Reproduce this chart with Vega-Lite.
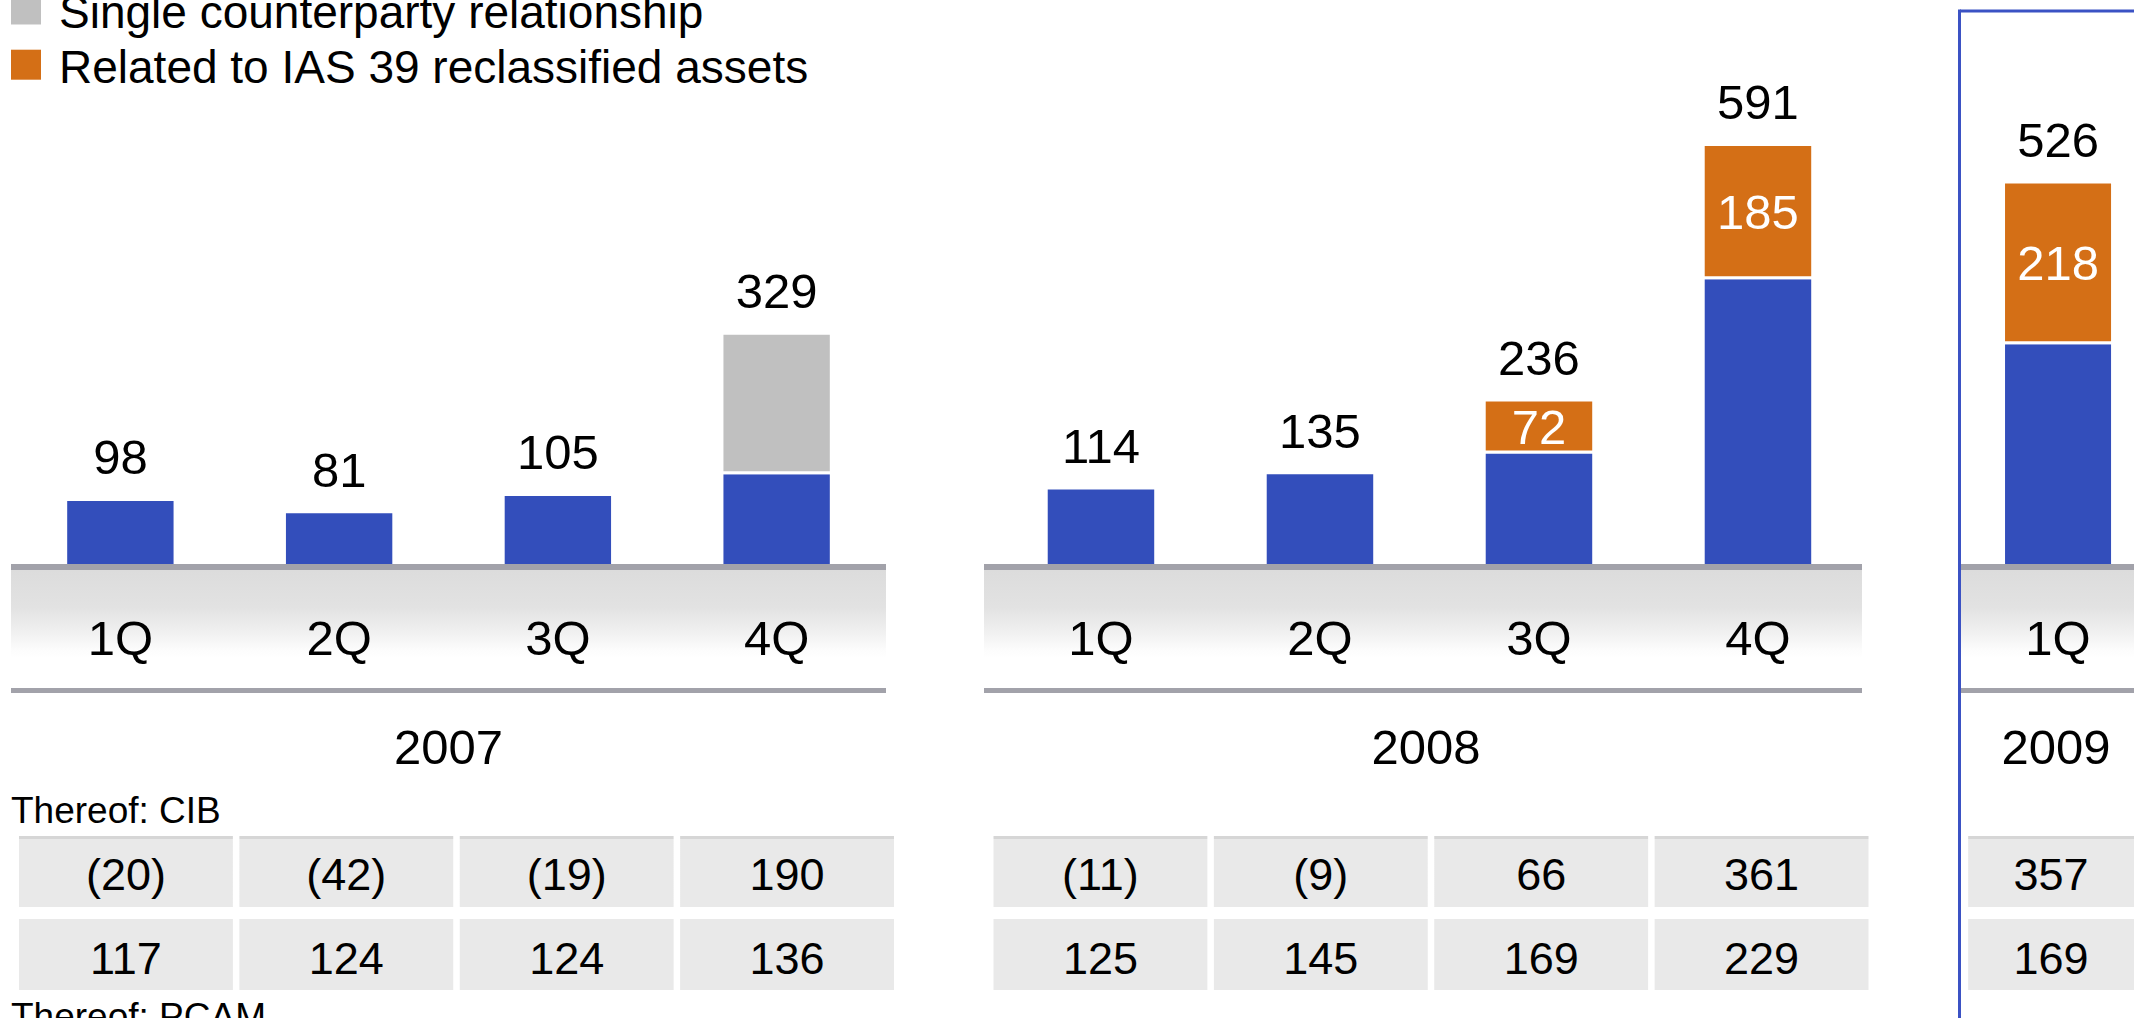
{
  "$schema": "https://vega.github.io/schema/vega-lite/v6.json",
  "background": "white",
  "padding": {"left": 11, "top": 0, "right": 0, "bottom": 0},
  "autosize": {"type": "pad"},
  "spacing": 0,
  "config": {
    "view": {"stroke": null},
    "axis": {"disable": true},
    "legend": {"disable": true},
    "font": "Liberation Sans",
    "text": {"font": "Liberation Sans", "color": "#000000"}
  },
  "datasets": {
    "bars": [
      {"year": "2007", "q": "1Q", "series": "Other provision for credit losses", "value": 98},
      {"year": "2007", "q": "2Q", "series": "Other provision for credit losses", "value": 81},
      {"year": "2007", "q": "3Q", "series": "Other provision for credit losses", "value": 105},
      {"year": "2007", "q": "4Q", "series": "Other provision for credit losses", "value": 135},
      {"year": "2007", "q": "4Q", "series": "Single counterparty relationship", "value": 194},
      {"year": "2008", "q": "1Q", "series": "Other provision for credit losses", "value": 114},
      {"year": "2008", "q": "2Q", "series": "Other provision for credit losses", "value": 135},
      {"year": "2008", "q": "3Q", "series": "Other provision for credit losses", "value": 164},
      {"year": "2008", "q": "3Q", "series": "Related to IAS 39 reclassified assets", "value": 72},
      {"year": "2008", "q": "4Q", "series": "Other provision for credit losses", "value": 406},
      {"year": "2008", "q": "4Q", "series": "Related to IAS 39 reclassified assets", "value": 185},
      {"year": "2009", "q": "1Q", "series": "Other provision for credit losses", "value": 308},
      {"year": "2009", "q": "1Q", "series": "Related to IAS 39 reclassified assets", "value": 218}
    ],
    "totals": [
      {"year": "2007", "q": "1Q", "total": 98},
      {"year": "2007", "q": "2Q", "total": 81},
      {"year": "2007", "q": "3Q", "total": 105},
      {"year": "2007", "q": "4Q", "total": 329},
      {"year": "2008", "q": "1Q", "total": 114},
      {"year": "2008", "q": "2Q", "total": 135},
      {"year": "2008", "q": "3Q", "total": 236},
      {"year": "2008", "q": "4Q", "total": 591},
      {"year": "2009", "q": "1Q", "total": 526}
    ],
    "table": [
      {"year": "2007", "q": "1Q", "segment": "CIB", "value": -20},
      {"year": "2007", "q": "2Q", "segment": "CIB", "value": -42},
      {"year": "2007", "q": "3Q", "segment": "CIB", "value": -19},
      {"year": "2007", "q": "4Q", "segment": "CIB", "value": 190},
      {"year": "2007", "q": "1Q", "segment": "PCAM", "value": 117},
      {"year": "2007", "q": "2Q", "segment": "PCAM", "value": 124},
      {"year": "2007", "q": "3Q", "segment": "PCAM", "value": 124},
      {"year": "2007", "q": "4Q", "segment": "PCAM", "value": 136},
      {"year": "2008", "q": "1Q", "segment": "CIB", "value": -11},
      {"year": "2008", "q": "2Q", "segment": "CIB", "value": -9},
      {"year": "2008", "q": "3Q", "segment": "CIB", "value": 66},
      {"year": "2008", "q": "4Q", "segment": "CIB", "value": 361},
      {"year": "2008", "q": "1Q", "segment": "PCAM", "value": 125},
      {"year": "2008", "q": "2Q", "segment": "PCAM", "value": 145},
      {"year": "2008", "q": "3Q", "segment": "PCAM", "value": 169},
      {"year": "2008", "q": "4Q", "segment": "PCAM", "value": 229},
      {"year": "2009", "q": "1Q", "segment": "CIB", "value": 357},
      {"year": "2009", "q": "1Q", "segment": "PCAM", "value": 169}
    ],
    "years": [{"year": "2007"}, {"year": "2008"}, {"year": "2009"}],
    "legend": [
      {"series": "Single counterparty relationship"},
      {"series": "Related to IAS 39 reclassified assets"}
    ],
    "notes": [{"note": "Thereof: CIB"}, {"note": "Thereof: PCAM"}]
  },
  "vconcat": [
    {
      "bounds": "flush",
      "spacing": 98,
      "hconcat": [
        {
          "width": 875,
          "height": 570,
          "resolve": {"scale": {"x": "independent", "y": "independent"}},
          "layer": [
            {
              "layer": [
                {
                  "data": {"name": "bars"},
                  "transform": [
                    {"filter": "datum.year == '2007'"},
                    {"stack": "value", "groupby": ["q"], "sort": [{"field": "series", "order": "ascending"}], "as": ["v0", "v1"]}
                  ],
                  "mark": {"type": "bar", "stroke": "#ffffff", "strokeWidth": 3, "clip": true},
                  "encoding": {
                    "x": {"field": "q", "type": "nominal", "scale": {"type": "band", "domain": ["1Q", "2Q", "3Q", "4Q"], "paddingInner": 0.5, "paddingOuter": 0.25}},
                    "y": {"field": "v1", "type": "quantitative", "scale": {"domain": [0, 791.7], "nice": false}},
                    "y2": {"field": "v0"},
                    "color": {"field": "series", "type": "nominal", "scale": {"domain": ["Other provision for credit losses", "Related to IAS 39 reclassified assets", "Single counterparty relationship"], "range": ["#334ebb", "#d46f16", "#c0c0c0"]}}
                  }
                },
                {
                  "data": {"name": "totals"},
                  "transform": [{"filter": "datum.year == '2007'"}],
                  "mark": {"type": "text", "fontSize": 49, "baseline": "middle", "dy": -40},
                  "encoding": {
                    "x": {"field": "q", "type": "nominal", "scale": {"type": "band", "domain": ["1Q", "2Q", "3Q", "4Q"], "paddingInner": 0.5, "paddingOuter": 0.25}},
                    "y": {"field": "total", "type": "quantitative", "scale": {"domain": [0, 791.7], "nice": false}},
                    "text": {"field": "total", "type": "quantitative"}
                  }
                },
                {
                  "data": {"name": "years"},
                  "transform": [{"filter": "datum.year == '2007'"}],
                  "mark": {"type": "rect", "color": "#a2a2aa"},
                  "encoding": {
                    "y": {"datum": 0, "type": "quantitative", "scale": {"domain": [0, 791.7], "nice": false}},
                    "y2": {"datum": 8.3}
                  }
                }
              ]
            },
            {
              "data": {"name": "legend"},
              "layer": [
                {
                  "mark": {"type": "point", "shape": "M0,-1H2V1H0Z", "size": 900, "filled": true, "opacity": 1, "clip": true},
                  "encoding": {
                    "x": {"datum": 0, "type": "quantitative", "scale": {"domain": [0, 1], "nice": false, "zero": false}},
                    "y": {"field": "series", "type": "nominal", "scale": {"type": "point", "domain": ["Single counterparty relationship", "Related to IAS 39 reclassified assets"], "range": [9.5, 64.7], "padding": 0}},
                    "color": {"field": "series", "type": "nominal", "scale": {"domain": ["Other provision for credit losses", "Related to IAS 39 reclassified assets", "Single counterparty relationship"], "range": ["#334ebb", "#d46f16", "#c0c0c0"]}}
                  }
                },
                {
                  "mark": {"type": "text", "align": "left", "baseline": "middle", "dx": 48, "dy": 4, "fontSize": 46, "clip": true},
                  "encoding": {
                    "x": {"datum": 0, "type": "quantitative", "scale": {"domain": [0, 1], "nice": false, "zero": false}},
                    "y": {"field": "series", "type": "nominal", "scale": {"type": "point", "domain": ["Single counterparty relationship", "Related to IAS 39 reclassified assets"], "range": [9.5, 64.7], "padding": 0}},
                    "text": {"field": "series", "type": "nominal"}
                  }
                }
              ]
            }
          ]
        },
        {
          "width": 878,
          "height": 570,
          "layer": [
            {
              "data": {"name": "bars"},
              "transform": [
                {"filter": "datum.year == '2008'"},
                {"stack": "value", "groupby": ["q"], "sort": [{"field": "series", "order": "ascending"}], "as": ["v0", "v1"]}
              ],
              "mark": {"type": "bar", "stroke": "#ffffff", "strokeWidth": 3, "clip": true},
              "encoding": {
                "x": {"field": "q", "type": "nominal", "scale": {"type": "band", "domain": ["1Q", "2Q", "3Q", "4Q"], "paddingInner": 0.5, "paddingOuter": 0.2546, "align": 0.558}},
                "y": {"field": "v1", "type": "quantitative", "scale": {"domain": [0, 791.7], "nice": false}},
                "y2": {"field": "v0"},
                "color": {"field": "series", "type": "nominal", "scale": {"domain": ["Other provision for credit losses", "Related to IAS 39 reclassified assets", "Single counterparty relationship"], "range": ["#334ebb", "#d46f16", "#c0c0c0"]}}
              }
            },
            {
              "data": {"name": "bars"},
              "transform": [
                {"filter": "datum.year == '2008'"},
                {"stack": "value", "groupby": ["q"], "sort": [{"field": "series", "order": "ascending"}], "as": ["v0", "v1"]},
                {"filter": "datum.series == 'Related to IAS 39 reclassified assets'"},
                {"fold": ["v0", "v1"], "as": ["edge", "pos"]}
              ],
              "mark": {"type": "text", "color": "#ffffff", "fontSize": 49, "baseline": "middle", "dy": 3},
              "encoding": {
                "x": {"field": "q", "type": "nominal", "scale": {"type": "band", "domain": ["1Q", "2Q", "3Q", "4Q"], "paddingInner": 0.5, "paddingOuter": 0.2546, "align": 0.558}},
                "y": {"aggregate": "mean", "field": "pos", "type": "quantitative", "scale": {"domain": [0, 791.7], "nice": false}},
                "text": {"field": "value", "type": "quantitative"}
              }
            },
            {
              "data": {"name": "totals"},
              "transform": [{"filter": "datum.year == '2008'"}],
              "mark": {"type": "text", "fontSize": 49, "baseline": "middle", "dy": -40},
              "encoding": {
                "x": {"field": "q", "type": "nominal", "scale": {"type": "band", "domain": ["1Q", "2Q", "3Q", "4Q"], "paddingInner": 0.5, "paddingOuter": 0.2546, "align": 0.558}},
                "y": {"field": "total", "type": "quantitative", "scale": {"domain": [0, 791.7], "nice": false}},
                "text": {"field": "total", "type": "quantitative"}
              }
            },
            {
              "data": {"name": "years"},
              "transform": [{"filter": "datum.year == '2008'"}],
              "mark": {"type": "rect", "color": "#a2a2aa"},
              "encoding": {
                "y": {"datum": 0, "type": "quantitative", "scale": {"domain": [0, 791.7], "nice": false}},
                "y2": {"datum": 8.3}
              }
            }
          ]
        },
        {
          "width": 174,
          "height": 570,
          "resolve": {"scale": {"x": "independent"}},
          "layer": [
            {
              "layer": [
                {
                  "data": {"name": "bars"},
                  "transform": [
                    {"filter": "datum.year == '2009'"},
                    {"stack": "value", "groupby": ["q"], "sort": [{"field": "series", "order": "ascending"}], "as": ["v0", "v1"]}
                  ],
                  "mark": {"type": "bar", "stroke": "#ffffff", "strokeWidth": 3, "clip": true},
                  "encoding": {
                    "x": {"field": "q", "type": "nominal", "scale": {"type": "band", "domain": ["1Q"], "paddingInner": 0.5, "paddingOuter": 0.149, "align": 0.67}},
                    "y": {"field": "v1", "type": "quantitative", "scale": {"domain": [0, 772.8], "nice": false}},
                    "y2": {"field": "v0"},
                    "color": {"field": "series", "type": "nominal", "scale": {"domain": ["Other provision for credit losses", "Related to IAS 39 reclassified assets", "Single counterparty relationship"], "range": ["#334ebb", "#d46f16", "#c0c0c0"]}}
                  }
                },
                {
                  "data": {"name": "bars"},
                  "transform": [
                    {"filter": "datum.year == '2009'"},
                    {"stack": "value", "groupby": ["q"], "sort": [{"field": "series", "order": "ascending"}], "as": ["v0", "v1"]},
                    {"filter": "datum.series == 'Related to IAS 39 reclassified assets'"},
                    {"fold": ["v0", "v1"], "as": ["edge", "pos"]}
                  ],
                  "mark": {"type": "text", "color": "#ffffff", "fontSize": 49, "baseline": "middle", "dy": 3},
                  "encoding": {
                    "x": {"field": "q", "type": "nominal", "scale": {"type": "band", "domain": ["1Q"], "paddingInner": 0.5, "paddingOuter": 0.149, "align": 0.67}},
                    "y": {"aggregate": "mean", "field": "pos", "type": "quantitative", "scale": {"domain": [0, 772.8], "nice": false}},
                    "text": {"field": "value", "type": "quantitative"}
                  }
                },
                {
                  "data": {"name": "totals"},
                  "transform": [{"filter": "datum.year == '2009'"}],
                  "mark": {"type": "text", "fontSize": 49, "baseline": "middle", "dy": -40},
                  "encoding": {
                    "x": {"field": "q", "type": "nominal", "scale": {"type": "band", "domain": ["1Q"], "paddingInner": 0.5, "paddingOuter": 0.149, "align": 0.67}},
                    "y": {"field": "total", "type": "quantitative", "scale": {"domain": [0, 772.8], "nice": false}},
                    "text": {"field": "total", "type": "quantitative"}
                  }
                },
                {
                  "data": {"name": "years"},
                  "transform": [{"filter": "datum.year == '2009'"}],
                  "mark": {"type": "rect", "color": "#a2a2aa"},
                  "encoding": {
                    "y": {"datum": 0, "type": "quantitative", "scale": {"domain": [0, 772.8], "nice": false}},
                    "y2": {"datum": 8.1}
                  }
                }
              ]
            },
            {
              "data": {"name": "years"},
              "transform": [{"filter": "datum.year == '2009'"}],
              "layer": [
                {
                  "mark": {"type": "rect", "color": "#3b52c4"},
                  "encoding": {
                    "x": {"datum": -0.0115, "type": "quantitative", "scale": {"domain": [0, 1], "nice": false, "zero": false}},
                    "x2": {"datum": 0.00575},
                    "y": {"datum": 759.9, "type": "quantitative", "scale": {"domain": [0, 772.8], "nice": false}},
                    "y2": {"datum": 0}
                  }
                },
                {
                  "mark": {"type": "rect", "color": "#3b52c4"},
                  "encoding": {
                    "y": {"datum": 759.9, "type": "quantitative", "scale": {"domain": [0, 772.8], "nice": false}},
                    "y2": {"datum": 755.8}
                  }
                }
              ]
            }
          ]
        }
      ]
    },
    {
      "bounds": "flush",
      "spacing": 98,
      "hconcat": [
        {
          "width": 875,
          "height": 123,
          "layer": [
            {
              "data": {"name": "years"},
              "transform": [{"filter": "datum.year == '2007'"}],
              "mark": {"type": "rect", "fill": {"gradient": "linear", "x1": 0, "y1": 0, "x2": 0, "y2": 1, "stops": [{"offset": 0, "color": "#dcdcdc"}, {"offset": 0.3, "color": "#e2e2e2"}, {"offset": 0.49, "color": "#efefef"}, {"offset": 0.65, "color": "#fcfcfc"}, {"offset": 0.71, "color": "#ffffff"}, {"offset": 0.958, "color": "#ffffff"}, {"offset": 0.959, "color": "#a2a2aa"}, {"offset": 1, "color": "#a2a2aa"}]}},
              "encoding": {}
            },
            {
              "data": {"name": "totals"},
              "transform": [{"filter": "datum.year == '2007'"}],
              "mark": {"type": "text", "fontSize": 49, "baseline": "middle", "dy": 8},
              "encoding": {
                "x": {"field": "q", "type": "nominal", "scale": {"type": "band", "domain": ["1Q", "2Q", "3Q", "4Q"], "paddingInner": 0.5, "paddingOuter": 0.25}},
                "text": {"field": "q", "type": "nominal"}
              }
            }
          ]
        },
        {
          "width": 878,
          "height": 123,
          "layer": [
            {
              "data": {"name": "years"},
              "transform": [{"filter": "datum.year == '2008'"}],
              "mark": {"type": "rect", "fill": {"gradient": "linear", "x1": 0, "y1": 0, "x2": 0, "y2": 1, "stops": [{"offset": 0, "color": "#dcdcdc"}, {"offset": 0.3, "color": "#e2e2e2"}, {"offset": 0.49, "color": "#efefef"}, {"offset": 0.65, "color": "#fcfcfc"}, {"offset": 0.71, "color": "#ffffff"}, {"offset": 0.958, "color": "#ffffff"}, {"offset": 0.959, "color": "#a2a2aa"}, {"offset": 1, "color": "#a2a2aa"}]}},
              "encoding": {}
            },
            {
              "data": {"name": "totals"},
              "transform": [{"filter": "datum.year == '2008'"}],
              "mark": {"type": "text", "fontSize": 49, "baseline": "middle", "dy": 8},
              "encoding": {
                "x": {"field": "q", "type": "nominal", "scale": {"type": "band", "domain": ["1Q", "2Q", "3Q", "4Q"], "paddingInner": 0.5, "paddingOuter": 0.2546, "align": 0.558}},
                "text": {"field": "q", "type": "nominal"}
              }
            }
          ]
        },
        {
          "width": 174,
          "height": 123,
          "resolve": {"scale": {"x": "independent"}},
          "layer": [
            {
              "data": {"name": "years"},
              "transform": [{"filter": "datum.year == '2009'"}],
              "mark": {"type": "rect", "fill": {"gradient": "linear", "x1": 0, "y1": 0, "x2": 0, "y2": 1, "stops": [{"offset": 0, "color": "#dcdcdc"}, {"offset": 0.3, "color": "#e2e2e2"}, {"offset": 0.49, "color": "#efefef"}, {"offset": 0.65, "color": "#fcfcfc"}, {"offset": 0.71, "color": "#ffffff"}, {"offset": 0.958, "color": "#ffffff"}, {"offset": 0.959, "color": "#a2a2aa"}, {"offset": 1, "color": "#a2a2aa"}]}},
              "encoding": {}
            },
            {
              "data": {"name": "totals"},
              "transform": [{"filter": "datum.year == '2009'"}],
              "mark": {"type": "text", "fontSize": 49, "baseline": "middle", "dy": 8},
              "encoding": {
                "x": {"field": "q", "type": "nominal", "scale": {"type": "band", "domain": ["1Q"], "paddingInner": 0.5, "paddingOuter": 0.149, "align": 0.67}},
                "text": {"field": "q", "type": "nominal"}
              }
            },
            {
              "data": {"name": "years"},
              "transform": [{"filter": "datum.year == '2009'"}],
              "mark": {"type": "rect", "color": "#3b52c4"},
              "encoding": {
                "x": {"datum": -0.0115, "type": "quantitative", "scale": {"domain": [0, 1], "nice": false, "zero": false}},
                "x2": {"datum": 0.00575}
              }
            }
          ]
        }
      ]
    },
    {
      "bounds": "flush",
      "spacing": 98,
      "hconcat": [
        {
          "width": 875,
          "height": 97,
          "data": {"name": "years"},
          "transform": [{"filter": "datum.year == '2007'"}],
          "mark": {"type": "text", "fontSize": 49, "baseline": "middle", "dy": 7},
          "encoding": {"text": {"field": "year", "type": "nominal"}}
        },
        {
          "width": 878,
          "height": 97,
          "data": {"name": "years"},
          "transform": [{"filter": "datum.year == '2008'"}],
          "mark": {"type": "text", "fontSize": 49, "baseline": "middle", "dy": 7, "dx": 3},
          "encoding": {"text": {"field": "year", "type": "nominal"}}
        },
        {
          "width": 174,
          "height": 97,
          "data": {"name": "years"},
          "transform": [{"filter": "datum.year == '2009'"}],
          "layer": [
            {
              "mark": {"type": "text", "fontSize": 49, "baseline": "middle", "dy": 7, "dx": 9},
              "encoding": {"text": {"field": "year", "type": "nominal"}}
            },
            {
              "mark": {"type": "rect", "color": "#3b52c4"},
              "encoding": {
                "x": {"datum": -0.0115, "type": "quantitative", "scale": {"domain": [0, 1], "nice": false, "zero": false}},
                "x2": {"datum": 0.00575}
              }
            }
          ]
        }
      ]
    },
    {
      "bounds": "flush",
      "spacing": 1074,
      "hconcat": [
        {
          "width": 875,
          "height": 42,
          "data": {"name": "notes"},
          "transform": [{"filter": "datum.note == 'Thereof: CIB'"}],
          "mark": {"type": "text", "align": "left", "baseline": "middle", "dy": 1, "fontSize": 37},
          "encoding": {
            "x": {"datum": 0, "type": "quantitative", "scale": {"domain": [0, 1], "nice": false, "zero": false}},
            "text": {"field": "note", "type": "nominal"}
          }
        },
        {
          "width": 174,
          "height": 42,
          "data": {"name": "years"},
          "transform": [{"filter": "datum.year == '2009'"}],
          "mark": {"type": "rect", "color": "#3b52c4"},
          "encoding": {
            "x": {"datum": -0.0115, "type": "quantitative", "scale": {"domain": [0, 1], "nice": false, "zero": false}},
            "x2": {"datum": 0.00575}
          }
        }
      ]
    },
    {
      "bounds": "flush",
      "spacing": 83.5,
      "hconcat": [
        {
          "width": 891,
          "height": 162,
          "layer": [
            {
              "data": {"name": "table"},
              "transform": [{"filter": "datum.year == '2007' && datum.segment == 'CIB'"}],
              "mark": {"type": "rect", "fill": {"gradient": "linear", "x1": 0, "y1": 0, "x2": 0, "y2": 1, "stops": [{"offset": 0, "color": "#d6d6d6"}, {"offset": 0.045, "color": "#d6d6d6"}, {"offset": 0.046, "color": "#e9e9e9"}, {"offset": 1, "color": "#e9e9e9"}]}},
              "encoding": {
                "x": {"field": "q", "type": "nominal", "scale": {"type": "band", "domain": ["1Q", "2Q", "3Q", "4Q"], "paddingInner": 0.0295, "paddingOuter": 0.0363}},
                "y": {"field": "segment", "type": "nominal", "scale": {"type": "band", "domain": ["CIB", "PCAM"], "paddingInner": 0.1446, "paddingOuter": 0.048}}
              }
            },
            {
              "data": {"name": "table"},
              "transform": [{"filter": "datum.year == '2007' && datum.segment == 'PCAM'"}],
              "mark": {"type": "rect", "fill": "#e9e9e9"},
              "encoding": {
                "x": {"field": "q", "type": "nominal", "scale": {"type": "band", "domain": ["1Q", "2Q", "3Q", "4Q"], "paddingInner": 0.0295, "paddingOuter": 0.0363}},
                "y": {"field": "segment", "type": "nominal", "scale": {"type": "band", "domain": ["CIB", "PCAM"], "paddingInner": 0.1446, "paddingOuter": 0.048}}
              }
            },
            {
              "data": {"name": "table"},
              "transform": [{"filter": "datum.year == '2007'"}],
              "mark": {"type": "text", "fontSize": 45, "baseline": "middle", "dy": 5},
              "encoding": {
                "x": {"field": "q", "type": "nominal", "scale": {"type": "band", "domain": ["1Q", "2Q", "3Q", "4Q"], "paddingInner": 0.0295, "paddingOuter": 0.0363}},
                "y": {"field": "segment", "type": "nominal", "scale": {"type": "band", "domain": ["CIB", "PCAM"], "paddingInner": 0.1446, "paddingOuter": 0.048}},
                "text": {"field": "value", "type": "quantitative", "format": "(d"}
              }
            }
          ]
        },
        {
          "width": 891,
          "height": 162,
          "layer": [
            {
              "data": {"name": "table"},
              "transform": [{"filter": "datum.year == '2008' && datum.segment == 'CIB'"}],
              "mark": {"type": "rect", "fill": {"gradient": "linear", "x1": 0, "y1": 0, "x2": 0, "y2": 1, "stops": [{"offset": 0, "color": "#d6d6d6"}, {"offset": 0.045, "color": "#d6d6d6"}, {"offset": 0.046, "color": "#e9e9e9"}, {"offset": 1, "color": "#e9e9e9"}]}},
              "encoding": {
                "x": {"field": "q", "type": "nominal", "scale": {"type": "band", "domain": ["1Q", "2Q", "3Q", "4Q"], "paddingInner": 0.0295, "paddingOuter": 0.0363}},
                "y": {"field": "segment", "type": "nominal", "scale": {"type": "band", "domain": ["CIB", "PCAM"], "paddingInner": 0.1446, "paddingOuter": 0.048}}
              }
            },
            {
              "data": {"name": "table"},
              "transform": [{"filter": "datum.year == '2008' && datum.segment == 'PCAM'"}],
              "mark": {"type": "rect", "fill": "#e9e9e9"},
              "encoding": {
                "x": {"field": "q", "type": "nominal", "scale": {"type": "band", "domain": ["1Q", "2Q", "3Q", "4Q"], "paddingInner": 0.0295, "paddingOuter": 0.0363}},
                "y": {"field": "segment", "type": "nominal", "scale": {"type": "band", "domain": ["CIB", "PCAM"], "paddingInner": 0.1446, "paddingOuter": 0.048}}
              }
            },
            {
              "data": {"name": "table"},
              "transform": [{"filter": "datum.year == '2008'"}],
              "mark": {"type": "text", "fontSize": 45, "baseline": "middle", "dy": 5},
              "encoding": {
                "x": {"field": "q", "type": "nominal", "scale": {"type": "band", "domain": ["1Q", "2Q", "3Q", "4Q"], "paddingInner": 0.0295, "paddingOuter": 0.0363}},
                "y": {"field": "segment", "type": "nominal", "scale": {"type": "band", "domain": ["CIB", "PCAM"], "paddingInner": 0.1446, "paddingOuter": 0.048}},
                "text": {"field": "value", "type": "quantitative", "format": "(d"}
              }
            }
          ]
        },
        {
          "width": 174,
          "height": 162,
          "resolve": {"scale": {"x": "independent"}},
          "layer": [
            {
              "data": {"name": "table"},
              "transform": [{"filter": "datum.year == '2009' && datum.segment == 'CIB'"}],
              "mark": {"type": "rect", "fill": {"gradient": "linear", "x1": 0, "y1": 0, "x2": 0, "y2": 1, "stops": [{"offset": 0, "color": "#d6d6d6"}, {"offset": 0.045, "color": "#d6d6d6"}, {"offset": 0.046, "color": "#e9e9e9"}, {"offset": 1, "color": "#e9e9e9"}]}},
              "encoding": {
                "x": {"field": "q", "type": "nominal", "scale": {"type": "band", "domain": ["1Q"], "paddingInner": 0, "paddingOuter": 0.0246, "align": 1}},
                "y": {"field": "segment", "type": "nominal", "scale": {"type": "band", "domain": ["CIB", "PCAM"], "paddingInner": 0.1446, "paddingOuter": 0.048}}
              }
            },
            {
              "data": {"name": "table"},
              "transform": [{"filter": "datum.year == '2009' && datum.segment == 'PCAM'"}],
              "mark": {"type": "rect", "fill": "#e9e9e9"},
              "encoding": {
                "x": {"field": "q", "type": "nominal", "scale": {"type": "band", "domain": ["1Q"], "paddingInner": 0, "paddingOuter": 0.0246, "align": 1}},
                "y": {"field": "segment", "type": "nominal", "scale": {"type": "band", "domain": ["CIB", "PCAM"], "paddingInner": 0.1446, "paddingOuter": 0.048}}
              }
            },
            {
              "data": {"name": "table"},
              "transform": [{"filter": "datum.year == '2009'"}],
              "mark": {"type": "text", "fontSize": 45, "baseline": "middle", "dy": 5},
              "encoding": {
                "x": {"field": "q", "type": "nominal", "scale": {"type": "band", "domain": ["1Q"], "paddingInner": 0, "paddingOuter": 0.0246, "align": 1}},
                "y": {"field": "segment", "type": "nominal", "scale": {"type": "band", "domain": ["CIB", "PCAM"], "paddingInner": 0.1446, "paddingOuter": 0.048}},
                "text": {"field": "value", "type": "quantitative", "format": "(d"}
              }
            },
            {
              "data": {"name": "years"},
              "transform": [{"filter": "datum.year == '2009'"}],
              "mark": {"type": "rect", "color": "#3b52c4"},
              "encoding": {
                "x": {"datum": -0.0115, "type": "quantitative", "scale": {"domain": [0, 1], "nice": false, "zero": false}},
                "x2": {"datum": 0.00575}
              }
            }
          ]
        }
      ]
    },
    {
      "bounds": "flush",
      "spacing": 1074,
      "hconcat": [
        {
          "width": 875,
          "height": 24,
          "data": {"name": "notes"},
          "transform": [{"filter": "datum.note == 'Thereof: PCAM'"}],
          "mark": {"type": "text", "align": "left", "baseline": "middle", "dy": 12, "fontSize": 37, "clip": true},
          "encoding": {
            "x": {"datum": 0, "type": "quantitative", "scale": {"domain": [0, 1], "nice": false, "zero": false}},
            "text": {"field": "note", "type": "nominal"}
          }
        },
        {
          "width": 174,
          "height": 24,
          "data": {"name": "years"},
          "transform": [{"filter": "datum.year == '2009'"}],
          "mark": {"type": "rect", "color": "#3b52c4"},
          "encoding": {
            "x": {"datum": -0.0115, "type": "quantitative", "scale": {"domain": [0, 1], "nice": false, "zero": false}},
            "x2": {"datum": 0.00575}
          }
        }
      ]
    }
  ]
}
